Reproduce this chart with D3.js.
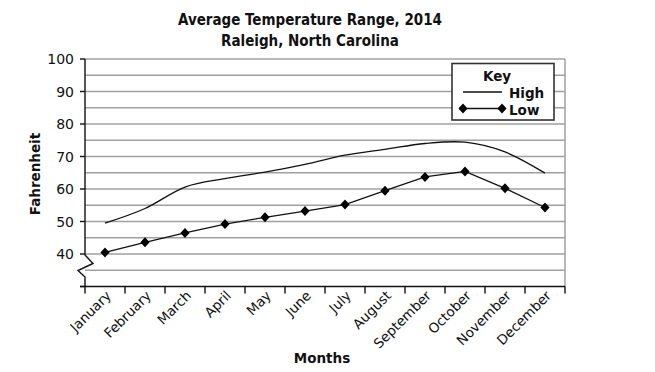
<!DOCTYPE html>
<html>
<head>
<meta charset="utf-8">
<script src="https://cdn.jsdelivr.net/npm/d3@7"></script>
<style>
  html, body { margin: 0; padding: 0; background: #fff; }
  svg { display: block; }
  text { font-family: "DejaVu Sans", Verdana, sans-serif; fill: #111; }
  .title { font-family: "DejaVu Sans Condensed", "DejaVu Sans", sans-serif; font-stretch: condensed; font-weight: bold; font-size: 15px; }
</style>
</head>
<body>
<svg id="chart" width="655" height="372"></svg>
<script>
const months = ["January","February","March","April","May","June","July","August","September","October","November","December"];
const highTemps = [49.5, 54.0, 60.6, 63.2, 65.2, 67.6, 70.4, 72.2, 74.0, 74.4, 71.4, 64.9];
const lowTemps  = [40.5, 43.6, 46.5, 49.2, 51.3, 53.2, 55.2, 59.5, 63.7, 65.4, 60.2, 54.3];
const yTickLabels = [40, 50, 60, 70, 80, 90, 100];
const gridValues = [35, 40, 45, 50, 55, 60, 65, 70, 75, 80, 85, 90, 95, 100];
const yMin = 30, yMax = 100;

const svg = d3.select("#chart");
const pLeft = 85, pRight = 565, pTop = 59, pBottom = 286.5;

const x = d3.scaleBand().domain(months).range([pLeft, pRight]);
const y = d3.scaleLinear().domain([yMin, yMax]).range([pBottom, pTop]);
const cx = m => x(m) + x.bandwidth() / 2;

// Titles
svg.append("text").attr("class", "title").attr("x", 310).attr("y", 25)
  .attr("text-anchor", "middle").text("Average Temperature Range, 2014");
svg.append("text").attr("class", "title").attr("x", 310).attr("y", 46)
  .attr("text-anchor", "middle").text("Raleigh, North Carolina");

// Gridlines
svg.append("g").selectAll("line").data(gridValues).join("line")
  .attr("x1", pLeft).attr("x2", pRight)
  .attr("y1", d => y(d)).attr("y2", d => y(d))
  .attr("stroke", "#a0a0a0").attr("stroke-width", 1.5);

// Right border
svg.append("line").attr("x1", pRight).attr("x2", pRight)
  .attr("y1", y(yMax)).attr("y2", y(yMin))
  .attr("stroke", "#a0a0a0").attr("stroke-width", 1.5);

// Y axis with break
const yb = y(40);
const axisPath = d3.path();
axisPath.moveTo(pLeft, y(yMax));
axisPath.lineTo(pLeft, yb + 1);
axisPath.lineTo(pLeft + 8, yb + 9.5);
axisPath.lineTo(pLeft - 7, yb + 16.5);
axisPath.lineTo(pLeft, yb + 23);
axisPath.lineTo(pLeft, y(yMin));
svg.append("path").attr("d", axisPath.toString())
  .attr("fill", "none").attr("stroke", "#111").attr("stroke-width", 1.4);

// Y ticks
svg.append("g").selectAll("line").data(yTickLabels.concat([yMin])).join("line")
  .attr("x1", pLeft - 5).attr("x2", pLeft)
  .attr("y1", d => y(d)).attr("y2", d => y(d))
  .attr("stroke", "#111").attr("stroke-width", 1.4);
svg.append("g").selectAll("text").data(yTickLabels).join("text")
  .attr("x", pLeft - 11).attr("y", d => y(d)).attr("dy", "0.36em")
  .attr("text-anchor", "end").attr("font-size", "14px").text(d => d);

// X axis
svg.append("line").attr("x1", pLeft - 5).attr("x2", pRight)
  .attr("y1", y(yMin)).attr("y2", y(yMin))
  .attr("stroke", "#111").attr("stroke-width", 1.4);
const xEdges = months.map(m => x(m)).concat([pRight]);
svg.append("g").selectAll("line").data(xEdges).join("line")
  .attr("x1", d => d).attr("x2", d => d)
  .attr("y1", y(yMin)).attr("y2", y(yMin) + 7)
  .attr("stroke", "#111").attr("stroke-width", 1.4);
svg.append("g").selectAll("text").data(months).join("text")
  .attr("text-anchor", "end").attr("font-size", "13.5px")
  .attr("transform", d => `translate(${cx(d) + 7},${y(yMin) + 10}) rotate(-45)`)
  .text(d => d);

// Axis titles
svg.append("text").attr("text-anchor", "middle")
  .attr("font-weight", "bold").attr("font-size", "13.5px")
  .attr("transform", "translate(40,174) rotate(-90)").text("Fahrenheit");
svg.append("text").attr("text-anchor", "middle")
  .attr("font-weight", "bold").attr("font-size", "13.5px")
  .attr("x", 322).attr("y", 363).text("Months");

// High line (smooth)
const lineHigh = d3.line().x((d, i) => cx(months[i])).y(d => y(d)).curve(d3.curveCardinal);
svg.append("path").attr("d", lineHigh(highTemps))
  .attr("fill", "none").attr("stroke", "#111").attr("stroke-width", 1.3);

// Low line with diamonds
const lineLow = d3.line().x((d, i) => cx(months[i])).y(d => y(d));
svg.append("path").attr("d", lineLow(lowTemps))
  .attr("fill", "none").attr("stroke", "#111").attr("stroke-width", 1.3);
const diamond = "M0,-5L4.6,0L0,5L-4.6,0Z";
svg.append("g").selectAll("path").data(lowTemps).join("path")
  .attr("d", diamond)
  .attr("transform", (d, i) => `translate(${cx(months[i])},${y(d)})`)
  .attr("fill", "#000");

// Legend
const lg = svg.append("g");
lg.append("rect").attr("x", 452).attr("y", 63.5).attr("width", 102).attr("height", 56.5)
  .attr("fill", "#fff").attr("stroke", "#333").attr("stroke-width", 1.6);
lg.append("text").attr("x", 497).attr("y", 81).attr("text-anchor", "middle")
  .attr("font-weight", "bold").attr("font-size", "13.5px").text("Key");
lg.append("line").attr("x1", 463).attr("x2", 502).attr("y1", 92).attr("y2", 92)
  .attr("stroke", "#111").attr("stroke-width", 1.3);
lg.append("text").attr("x", 509).attr("y", 97.5)
  .attr("font-weight", "bold").attr("font-size", "13.5px").text("High");
lg.append("line").attr("x1", 463).attr("x2", 502).attr("y1", 108.5).attr("y2", 108.5)
  .attr("stroke", "#111").attr("stroke-width", 1.3);
lg.selectAll("path.ld").data([463, 502]).join("path").attr("class", "ld")
  .attr("d", diamond).attr("transform", d => `translate(${d},108.5)`).attr("fill", "#000");
lg.append("text").attr("x", 509).attr("y", 114.5)
  .attr("font-weight", "bold").attr("font-size", "13.5px").text("Low");
</script>
</body>
</html>
